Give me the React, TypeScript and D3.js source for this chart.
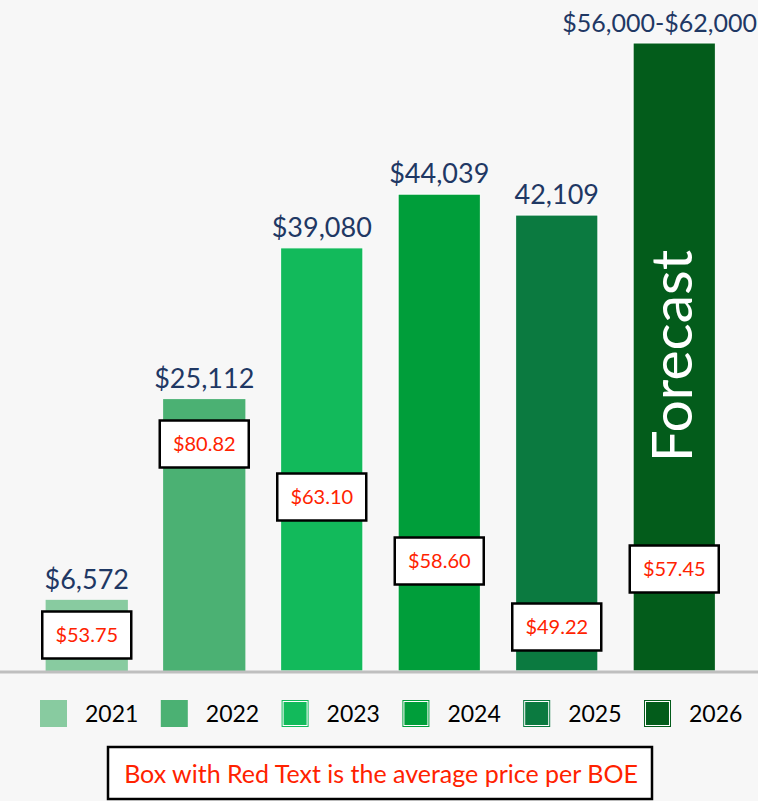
import * as d3 from "d3";
import { useEffect } from "react";

// chart data
const years = ["2021", "2022", "2023", "2024", "2025", "2026"];
const revenue = [6572, 25112, 39080, 44039, 42109, 58000];
const revenueLabels = ["$6,572", "$25,112", "$39,080", "$44,039", "42,109", "$56,000-$62,000"];
const pricePerBoe = ["$53.75", "$80.82", "$63.10", "$58.60", "$49.22", "$57.45"];
const colors = ["#88cba0", "#4bb173", "#12ba5b", "#009e3a", "#0b7a40", "#035c1b"];

// where each price box sits (center y, px) - placed by hand in the original
const boxCenterY = [635, 444, 497, 561, 627, 569];

const W = 758;
const H = 801;
const FONT = "Lato, 'Noto Sans', sans-serif";

function App() {
  useEffect(() => {
    document.body.style.margin = "0";
  }, []);

  const baseline = 671;
  const x = d3.scaleBand<string>().domain(years).range([28, 733]).paddingInner(0.3).paddingOuter(0.15);
  const y = d3.scaleLinear().domain([0, 58000]).range([baseline, 43]);

  const boxW = 89;
  const boxH = 47;
  const last = years.length - 1;

  return (
    <svg width={W} height={H} style={{ display: "block", background: "#f7f7f7" }}>
      <rect x={0} y={0} width={W} height={H} fill="#f7f7f7" />

      {/* bars */}
      {years.map((yr, i) => (
        <rect
          key={yr}
          x={x(yr)}
          y={y(revenue[i])}
          width={x.bandwidth()}
          height={baseline - y(revenue[i])}
          fill={colors[i]}
          stroke={i >= 2 ? "#ffffff" : "none"}
          strokeWidth={1}
        />
      ))}

      {/* axis line */}
      <line x1={0} x2={W} y1={baseline + 1} y2={baseline + 1} stroke="#bfbfbf" strokeWidth={3} />

      {/* value labels; the last one is too wide for its bar, so pin it to the right edge */}
      {years.map((yr, i) => (
        <text
          key={yr}
          x={i === last ? W - 1 : (x(yr) ?? 0) + x.bandwidth() / 2}
          y={y(revenue[i]) - 11}
          textAnchor={i === last ? "end" : "middle"}
          fontFamily={FONT}
          fontSize={i === last ? 25 : 27}
          fill="#1f3864"
        >
          {revenueLabels[i]}
        </text>
      ))}

      {/* forecast label */}
      <text
        transform={`translate(${(x("2026") ?? 0) + x.bandwidth() / 2 + 18},356) rotate(-90)`}
        textAnchor="middle"
        fontFamily={FONT}
        fontSize={57}
        fill="#ffffff"
      >
        Forecast
      </text>

      {/* price per BOE boxes */}
      {years.map((yr, i) => {
        const cx = (x(yr) ?? 0) + x.bandwidth() / 2;
        return (
          <g key={yr}>
            <rect
              x={cx - boxW / 2}
              y={boxCenterY[i] - boxH / 2}
              width={boxW}
              height={boxH}
              fill="#ffffff"
              stroke="#000000"
              strokeWidth={2.5}
            />
            <text
              x={cx}
              y={boxCenterY[i] + 7}
              textAnchor="middle"
              fontFamily={FONT}
              fontSize={20}
              fill="#ff2200"
            >
              {pricePerBoe[i]}
            </text>
          </g>
        );
      })}

      {/* legend */}
      {years.map((yr, i) => {
        const lx = 40 + i * 120.8;
        return (
          <g key={yr}>
            <rect x={lx} y={700} width={27} height={27} fill={colors[i]} />
            {i >= 2 && (
              <rect
                x={lx + 1.5}
                y={701.5}
                width={24}
                height={24}
                fill="none"
                stroke="#ffffff"
                strokeWidth={1}
              />
            )}
            <text x={lx + 45} y={722} fontFamily={FONT} fontSize={23} fill="#000000">
              {yr}
            </text>
          </g>
        );
      })}

      {/* note box */}
      <rect x={108} y={747} width={544} height={52} fill="#ffffff" stroke="#000000" strokeWidth={2.5} />
      <text x={381} y={783} textAnchor="middle" fontFamily={FONT} fontSize={25} fill="#ff2200">
        Box with Red Text is the average price per BOE
      </text>
    </svg>
  );
}

export default App;
